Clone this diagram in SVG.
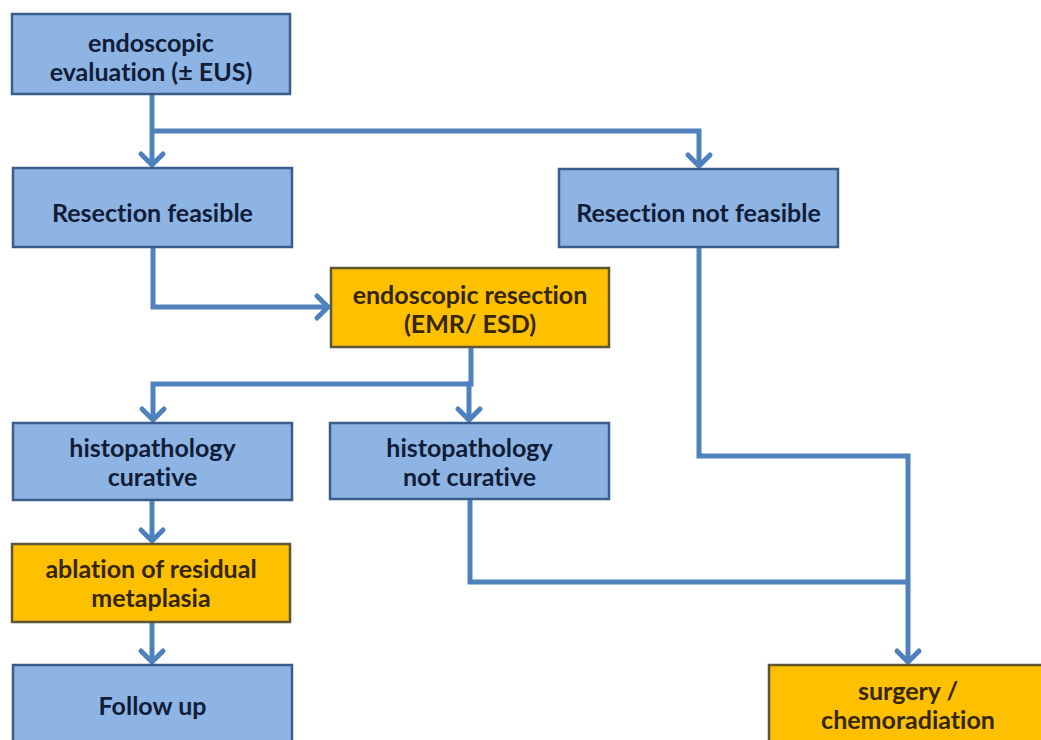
<svg xmlns="http://www.w3.org/2000/svg" width="1041" height="740" viewBox="0 0 1041 740">
<style>
.blue{fill:#8db4e2;stroke:#3a5e8c;stroke-width:2.5}
.orange{fill:#ffc000;stroke:#5e5635;stroke-width:2.5}
text{font-family:Lato,"Open Sans","Liberation Sans",sans-serif;font-weight:bold;font-size:25px;text-anchor:middle;font-variant-ligatures:none}
.tb{fill:#101c38}
.to{fill:#33260a}
.conn{fill:none;stroke:#4f81bd;stroke-width:5;stroke-linejoin:miter}
</style>
<defs>
<marker id="arr" markerUnits="userSpaceOnUse" markerWidth="30" markerHeight="30" refX="0" refY="0" orient="auto" overflow="visible">
<path d="M-11,-11 L0,0 L-11,11" fill="none" stroke="#4f81bd" stroke-width="5" stroke-linecap="round"/>
</marker>
</defs>
<rect width="1041" height="740" fill="#ffffff"/>
<g id="connectors">
<path class="conn" d="M152,94 V165" marker-end="url(#arr)"/>
<path class="conn" d="M152,131 H699 V166" marker-end="url(#arr)"/>
<path class="conn" d="M153,247 V307 H328" marker-end="url(#arr)"/>
<path class="conn" d="M471,347 V384 H153 V420" marker-end="url(#arr)"/>
<path class="conn" d="M471,384 H469 V420" marker-end="url(#arr)"/>
<path class="conn" d="M152,500 V541" marker-end="url(#arr)"/>
<path class="conn" d="M152,622 V662" marker-end="url(#arr)"/>
<path class="conn" d="M699,247 V456 H908 V662" marker-end="url(#arr)"/>
<path class="conn" d="M470,499 V582 H908"/>
</g>
<g id="endoscopic-evaluation">
<rect class="blue" x="12" y="14" width="278" height="80"/>
<text class="tb" x="151" y="52">endoscopic</text>
<text class="tb" x="151" y="81">evaluation (± EUS)</text>
</g>
<g id="resection-feasible">
<rect class="blue" x="13" y="168" width="279" height="79"/>
<text class="tb" x="152.5" y="222">Resection feasible</text>
</g>
<g id="resection-not-feasible">
<rect class="blue" x="559" y="169" width="279" height="78"/>
<text class="tb" x="698.5" y="222">Resection not feasible</text>
</g>
<g id="endoscopic-resection">
<rect class="orange" x="331" y="268" width="278" height="79"/>
<text class="to" x="470" y="304">endoscopic resection</text>
<text class="to" x="470" y="333">(EMR/ ESD)</text>
</g>
<g id="histopathology-curative">
<rect class="blue" x="13" y="423" width="279" height="77"/>
<text class="tb" x="152.5" y="457">histopathology</text>
<text class="tb" x="152.5" y="486">curative</text>
</g>
<g id="histopathology-not-curative">
<rect class="blue" x="330" y="423" width="279" height="76"/>
<text class="tb" x="469.5" y="457">histopathology</text>
<text class="tb" x="469.5" y="486">not curative</text>
</g>
<g id="ablation">
<rect class="orange" x="12" y="544" width="278" height="78"/>
<text class="to" x="151" y="578">ablation of residual</text>
<text class="to" x="151" y="607">metaplasia</text>
</g>
<g id="follow-up">
<rect class="blue" x="13" y="665" width="279" height="80"/>
<text class="tb" x="152.5" y="715">Follow up</text>
</g>
<g id="surgery">
<rect class="orange" x="769" y="665" width="280" height="80"/>
<text class="to" x="908" y="700">surgery /</text>
<text class="to" x="908" y="729">chemoradiation</text>
</g>
</svg>
